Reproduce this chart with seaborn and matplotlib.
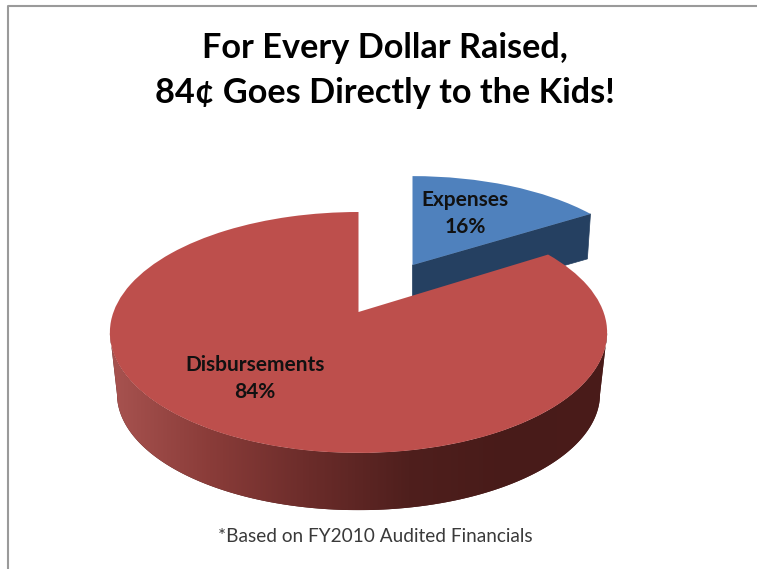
import numpy as np
import matplotlib
matplotlib.use('Agg')
import matplotlib.pyplot as plt
import matplotlib.transforms as mtransforms
import seaborn as sns

# Values
categories = ['Expenses', 'Disbursements']
shares = [16, 84]
title_lines = ['For Every Dollar Raised,', '84¢ Goes Directly to the Kids!']
footnote = '*Based on FY2010 Audited Financials'

top_colors = ['#4f81bd', '#bd4f4c']
blue_wall = '#254061'
red_side_colors = ['#a85350', '#8a3c39', '#6b2c2a', '#4f1f1d', '#481b19', '#4a1c1a']

sns.set_theme(style='white')
plt.rcParams['font.family'] = ['Lato', 'DejaVu Sans']


# Excel style 3D look: unit circle pushed through a small perspective
class Tilt(mtransforms.Transform):
    input_dims = 2
    output_dims = 2

    def __init__(self, cx, cy, a, b, k=0.17):
        super().__init__()
        self.cx, self.cy, self.a, self.b, self.k = cx, cy, a, b, k

    def transform_non_affine(self, values):
        values = np.asarray(values, dtype=float)
        w = 1 + self.k * values[:, 1]
        return np.column_stack([self.cx + self.a * values[:, 0] / w,
                                self.cy - self.b * values[:, 1] / w])


fig = plt.figure(figsize=(7.57, 5.69), dpi=100)
ax = fig.add_axes([0, 0, 1, 1])

wedges, _ = ax.pie(shares, colors=top_colors, startangle=90, counterclock=False,
                   wedgeprops={'linewidth': 0})

blue_top = Tilt(412.5, 265, 230, 104)
blue_low = Tilt(412.5, 309, 226, 102)
red_top = Tilt(358.5, 312, 245, 117)
red_low = Tilt(358.5, 374, 238, 113)

wedges[0].set_transform(blue_top + ax.transData)
wedges[1].set_transform(red_top + ax.transData)
wedges[0].set_zorder(3)
wedges[1].set_zorder(6)

# cut face of the blue slice, it is the only wall of it we can see
blue_angle = np.deg2rad(shares[0] / sum(shares) * 360)
apex = np.array([[0.0, 0.0]])
tip = np.array([[np.sin(blue_angle), np.cos(blue_angle)]])
face = np.vstack([blue_top.transform(apex), blue_top.transform(tip),
                  blue_low.transform(tip), blue_low.transform(apex)])
ax.fill(face[:, 0], face[:, 1], color=blue_wall, lw=0.5, zorder=2)

# front wall of the red slice: horizontal gradient clipped to the wall outline
# the arc runs between the two widest points of the tilted circle
angles = np.deg2rad(np.linspace(260, 100, 161))
rim = np.column_stack([np.sin(angles), np.cos(angles)])
upper = red_top.transform(rim)
lower = red_low.transform(rim)
outline = np.vstack([upper, lower[::-1]])
wall = ax.fill(outline[:, 0], outline[:, 1], color=red_side_colors[-1], lw=0, zorder=4)[0]
gradient = np.array([sns.blend_palette(red_side_colors, n_colors=256)])
image = ax.imshow(gradient, extent=(outline[:, 0].min(), outline[:, 0].max(),
                                    outline[:, 1].max(), outline[:, 1].min()),
                  aspect='auto', interpolation='bilinear', zorder=5)
image.set_clip_path(wall)

ax.set_aspect('auto')
ax.set_xlim(0, 757)
ax.set_ylim(569, 0)
ax.axis('off')

# slide border, only left and top are there
ax.plot([8, 8, 757], [569, 5.5, 5.5], color='#9a9a9a', lw=1.5, zorder=1)

ax.text(385, 48, title_lines[0], ha='center', va='center', fontsize=24.7,
        fontweight='bold', color='black', zorder=8)
ax.text(385, 93, title_lines[1], ha='center', va='center', fontsize=24.7,
        fontweight='bold', color='black', zorder=8)

ax.text(465, 200, categories[0], ha='center', va='center', fontsize=15,
        fontweight='bold', color='#111111', zorder=8)
ax.text(465, 227, f'{shares[0]}%', ha='center', va='center', fontsize=15,
        fontweight='bold', color='#111111', zorder=8)
ax.text(255, 365, categories[1], ha='center', va='center', fontsize=15,
        fontweight='bold', color='#111111', zorder=8)
ax.text(255, 392, f'{shares[1]}%', ha='center', va='center', fontsize=15,
        fontweight='bold', color='#111111', zorder=8)

ax.text(375, 536, footnote, ha='center', va='center', fontsize=13.7,
        color='#3a3a3a', zorder=8)

fig.savefig('out.png', dpi=100, facecolor='white')
